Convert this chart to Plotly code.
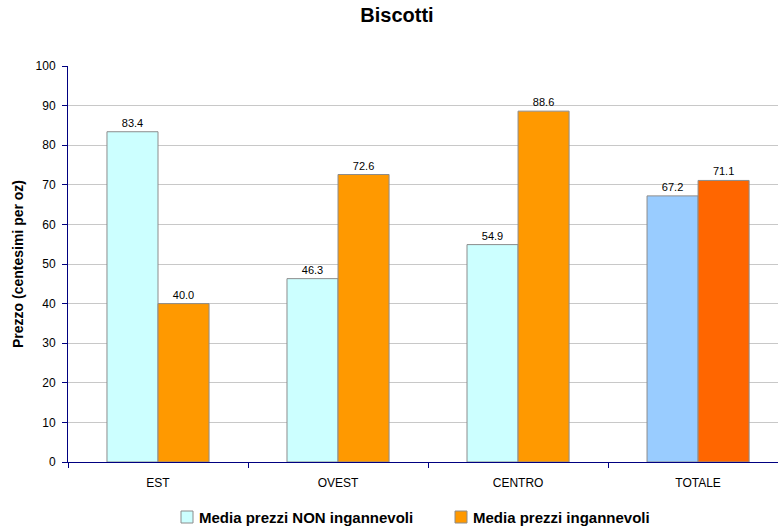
import plotly.graph_objects as go

categories = ["EST", "OVEST", "CENTRO", "TOTALE"]
non_ingannevoli = [83.4, 46.3, 54.9, 67.2]
ingannevoli = [40.0, 72.6, 88.6, 71.1]
y_ticks = [0, 10, 20, 30, 40, 50, 60, 70, 80, 90, 100]
series_names = ["Media prezzi NON ingannevoli", "Media prezzi ingannevoli"]

FONT = "Liberation Sans, Arial, sans-serif"
AXIS_BLUE = "#000080"
EDGE = "#8C8C8C"

# the TOTALE group uses a darker pair of colours
colors_non = ["#CCFFFF", "#CCFFFF", "#CCFFFF", "#99CCFF"]
colors_ing = ["#FF9900", "#FF9900", "#FF9900", "#FF6600"]

W, H = 778, 528
M_L, M_R, M_T, M_B = 68, 0, 66, 66
PW, PH = W - M_L - M_R, H - M_T - M_B


def px_x(x):
    return (x - M_L) / PW


def px_y(y):
    return (H - M_B - y) / PH


fig = go.Figure()
for name, vals, cols in [(series_names[0], non_ingannevoli, colors_non),
                         (series_names[1], ingannevoli, colors_ing)]:
    fig.add_trace(go.Bar(
        name=name, x=categories, y=vals,
        marker=dict(color=cols, line=dict(color=EDGE, width=1)),
        text=[f"{v:.1f}" for v in vals],
        textposition="outside", cliponaxis=False,
        textfont=dict(family=FONT, size=11, color="black"),
        showlegend=False,
    ))

# legend drawn as small squares with bold labels below the plot
legend_items = [(series_names[0], colors_non[0], 181),
                (series_names[1], colors_ing[0], 455)]
shapes, annotations = [], []
for label, col, x0 in legend_items:
    shapes.append(dict(type="rect", xref="paper", yref="paper",
                       x0=px_x(x0), x1=px_x(x0 + 12),
                       y0=px_y(523), y1=px_y(511),
                       fillcolor=col, line=dict(color=EDGE, width=1)))
    annotations.append(dict(text=f"<b>{label}</b>", xref="paper", yref="paper",
                            x=px_x(x0 + 16), y=px_y(517),
                            xanchor="left", yanchor="middle", showarrow=False,
                            font=dict(family=FONT, size=15, color="black")))

fig.update_layout(
    width=W, height=H,
    margin=dict(l=M_L, r=M_R, t=M_T, b=M_B),
    paper_bgcolor="white", plot_bgcolor="white",
    barmode="group", bargap=0.433, bargroupgap=0,
    font=dict(family=FONT, size=12, color="black"),
    title=dict(text="<b>Biscotti</b>", x=397 / W, xanchor="center",
               y=1 - 15 / H, yanchor="middle",
               font=dict(family=FONT, size=20, color="black")),
    shapes=shapes, annotations=annotations,
)

fig.update_xaxes(
    range=[-0.5, 3.444],
    showline=True, linecolor=AXIS_BLUE, linewidth=1,
    ticks="outside", tickson="boundaries", ticklen=5, tickcolor=AXIS_BLUE,
    ticklabelstandoff=10,
    showgrid=False, tickfont=dict(family=FONT, size=12, color="black"),
)
fig.update_yaxes(
    range=[0, 100], tickvals=y_ticks,
    showline=True, linecolor=AXIS_BLUE, linewidth=1,
    ticks="outside", ticklen=5, tickcolor=AXIS_BLUE,
    ticklabelstandoff=4,
    showgrid=True, gridcolor="#C8C8C8", gridwidth=1,
    zeroline=False,
    tickfont=dict(family=FONT, size=12, color="black"),
    title=dict(text="<b>Prezzo (centesimi per oz)</b>", standoff=8,
               font=dict(family=FONT, size=14, color="black")),
)

fig.write_html("out.html")
